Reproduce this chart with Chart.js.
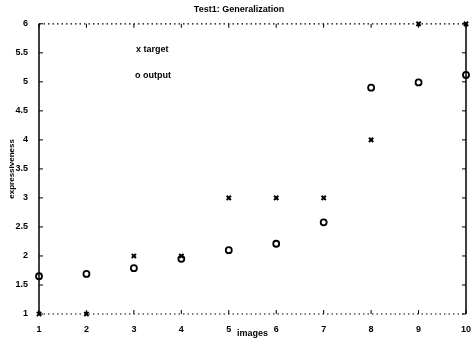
<!DOCTYPE html>
<html>
<head>
<meta charset="utf-8">
<script src="https://cdn.jsdelivr.net/npm/chart.js@4"></script>
<style>
  html, body { margin: 0; padding: 0; background: #fff; }
  #wrap { width: 472px; height: 339px; }
</style>
</head>
<body>
<div id="wrap"><canvas id="myChart" width="472" height="339"></canvas></div>
<script>
// values
var images = [1, 2, 3, 4, 5, 6, 7, 8, 9, 10]
var target = [1, 1, 2, 2, 3, 3, 3, 4, 6, 6]
var output = [1.65, 1.69, 1.79, 1.95, 2.1, 2.21, 2.58, 4.9, 4.99, 5.12]
var yTicks = [1, 1.5, 2, 2.5, 3, 3.5, 4, 4.5, 5, 5.5, 6]
var xTicks = [1, 2, 3, 4, 5, 6, 7, 8, 9, 10]

var fontFam = '"Liberation Sans", Arial, sans-serif'

function toPoints(xs, ys) {
    var pts = []
    for (var i = 0; i < xs.length; i++) pts.push({x: xs[i], y: ys[i]})
    return pts
}

// box, inward ticks and the text legend, like the old matlab plot
var boxPlugin = {
    id: 'box',
    afterDraw: function(chart) {
        var ctx = chart.ctx
        var a = chart.chartArea
        var xs = chart.scales.x, ys = chart.scales.y
        ctx.save()
        ctx.strokeStyle = '#000'
        ctx.lineWidth = 1.5
        // left and right axis
        ctx.beginPath()
        ctx.moveTo(a.left, a.top); ctx.lineTo(a.left, a.bottom)
        ctx.moveTo(a.right, a.top); ctx.lineTo(a.right, a.bottom)
        ctx.stroke()
        // top and bottom dotted
        ctx.lineWidth = 1.2
        ctx.setLineDash([1.5, 3])
        ctx.beginPath()
        ctx.moveTo(a.left, a.top); ctx.lineTo(a.right, a.top)
        ctx.moveTo(a.left, a.bottom); ctx.lineTo(a.right, a.bottom)
        ctx.stroke()
        ctx.setLineDash([])
        ctx.lineWidth = 1
        ctx.beginPath()
        xTicks.forEach(function(v) {
            var p = xs.getPixelForValue(v)
            ctx.moveTo(p, a.bottom); ctx.lineTo(p, a.bottom - 4)
            ctx.moveTo(p, a.top); ctx.lineTo(p, a.top + 4)
        })
        yTicks.forEach(function(v) {
            var p = ys.getPixelForValue(v)
            ctx.moveTo(a.left, p); ctx.lineTo(a.left + 4, p)
            ctx.moveTo(a.right, p); ctx.lineTo(a.right - 4, p)
        })
        ctx.stroke()
        // legend
        ctx.fillStyle = '#000'
        ctx.font = 'bold 9px ' + fontFam
        ctx.textBaseline = 'middle'
        ctx.fillText('x ' + chart.data.datasets[0].label, 136, 50)
        ctx.fillText('o ' + chart.data.datasets[1].label, 135, 76)
        ctx.restore()
    }
}

var myChart = document.getElementById('myChart').getContext('2d')
var chart = new Chart(myChart, {
    type: 'scatter',
    data: {
        datasets: [
            {
                label: 'target',
                data: toPoints(images, target),
                pointStyle: 'crossRot',
                radius: 3,
                borderWidth: 2,
                borderColor: '#000',
                backgroundColor: '#000',
                clip: false
            },
            {
                label: 'output',
                data: toPoints(images, output),
                pointStyle: 'circle',
                radius: 3,
                borderWidth: 1.8,
                borderColor: '#000',
                backgroundColor: 'rgba(0,0,0,0)',
                clip: false
            }
        ]
    },
    options: {
        responsive: false,
        animation: false,
        layout: { padding: { left: 0, right: -6, top: 0, bottom: 0 } },
        plugins: {
            legend: { display: false },
            tooltip: { enabled: false },
            title: {
                display: true,
                text: 'Test1: Generalization',
                color: '#000',
                font: { family: fontFam, size: 9, weight: 'bold' },
                padding: { top: 4, bottom: 9 }
            }
        },
        scales: {
            x: {
                type: 'linear',
                min: 1,
                max: 10,
                afterBuildTicks: function(s) { s.ticks = xTicks.map(function(v) { return {value: v} }) },
                afterFit: function(s) { s.height = 25; s.paddingRight = 0; s.paddingLeft = 0 },
                grid: { display: false },
                border: { display: false },
                ticks: {
                    color: '#000',
                    padding: 2,
                    maxRotation: 0,
                    font: { family: fontFam, size: 9, weight: 'bold' }
                },
                title: {
                    display: true,
                    text: 'images',
                    color: '#000',
                    padding: 0,
                    font: { family: fontFam, size: 9, weight: 'bold' }
                }
            },
            y: {
                min: 1,
                max: 6,
                afterBuildTicks: function(s) { s.ticks = yTicks.map(function(v) { return {value: v} }) },
                afterFit: function(s) { s.width = 39 },
                grid: { display: false },
                border: { display: false },
                ticks: {
                    color: '#000',
                    padding: 3,
                    font: { family: fontFam, size: 9, weight: 'bold' },
                    callback: function(v) { return String(v) }
                },
                title: {
                    display: true,
                    text: 'expressiveness',
                    color: '#000',
                    padding: { top: 7, bottom: 0 },
                    font: { family: fontFam, size: 8, weight: 'bold' }
                }
            }
        }
    },
    plugins: [boxPlugin]
})
</script>
</body>
</html>
